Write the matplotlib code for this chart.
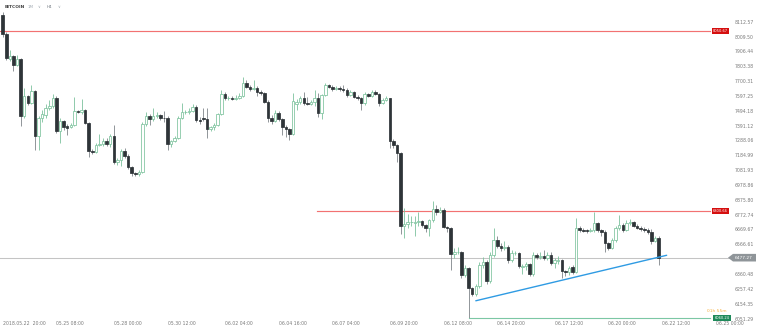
import matplotlib
matplotlib.use('Agg')
import matplotlib.pyplot as plt
import matplotlib.transforms as mtransforms
from matplotlib.patches import Polygon, Rectangle
import pandas as pd

# ---------------- data ----------------
start_time = '2018-05-22 20:00'
opens = [8165, 8030, 7855, 7878, 7816, 7857, 7461, 7600, 7552, 7635,
         7323, 7448, 7470, 7517, 7531, 7587, 7357, 7427, 7392, 7385,
         7399, 7496, 7489, 7503, 7413, 7218, 7211, 7260, 7267, 7288,
         7267, 7323, 7142, 7156, 7218, 7184, 7107, 7066, 7057, 7075,
         7404, 7464, 7441, 7464, 7468, 7450, 7446, 7265, 7288, 7306,
         7450, 7487, 7491, 7496, 7526, 7434, 7446, 7440, 7371, 7387,
         7399, 7475, 7612, 7584, 7590, 7583, 7589, 7602, 7689, 7665,
         7649, 7658, 7626, 7619, 7561, 7446, 7429, 7484, 7439, 7387,
         7369, 7337, 7545, 7561, 7584, 7550, 7548, 7558, 7584, 7480,
         7607, 7677, 7665, 7647, 7654, 7649, 7645, 7607, 7630, 7596,
         7584, 7550, 7614, 7600, 7630, 7614, 7550, 7573, 7584, 7290,
         7260, 7204, 6699, 6711, 6723, 6718, 6725, 6729, 6704, 6681,
         6739, 6815, 6797, 6808, 6692, 6685, 6501, 6515, 6519, 6357,
         6408, 6269, 6223, 6283, 6426, 6449, 6315, 6496, 6600, 6560,
         6542, 6553, 6461, 6508, 6510, 6412, 6422, 6430, 6364, 6496,
         6480, 6492, 6477, 6496, 6440, 6455, 6463, 6385, 6376, 6412,
         6380, 6681, 6670, 6670, 6663, 6670, 6716, 6670, 6658, 6577,
         6547, 6600, 6681, 6704, 6670, 6716, 6727, 6700, 6686, 6677,
         6670, 6658, 6593, 6616]
highs = [8184, 8045, 7920, 7885, 7885, 7864, 7656, 7607, 7677, 7642,
         7461, 7503, 7545, 7573, 7614, 7600, 7448, 7434, 7406, 7413,
         7594, 7503, 7580, 7510, 7420, 7232, 7274, 7337, 7309, 7309,
         7337, 7399, 7170, 7232, 7239, 7198, 7114, 7073, 7086, 7420,
         7489, 7475, 7517, 7489, 7475, 7496, 7461, 7295, 7323, 7461,
         7552, 7503, 7517, 7545, 7538, 7455, 7517, 7517, 7392, 7413,
         7482, 7642, 7626, 7600, 7600, 7607, 7621, 7735, 7712, 7677,
         7712, 7670, 7642, 7628, 7573, 7468, 7503, 7496, 7448, 7399,
         7378, 7623, 7580, 7600, 7628, 7594, 7573, 7642, 7621, 7614,
         7693, 7684, 7677, 7670, 7670, 7677, 7656, 7642, 7635, 7607,
         7594, 7628, 7621, 7642, 7642, 7621, 7587, 7600, 7590, 7302,
         7267, 7211, 6822, 6781, 6767, 6767, 6797, 6739, 6711, 6746,
         6871, 6843, 6829, 6822, 6697, 6690, 6545, 6551, 6524, 6426,
         6412, 6274, 6294, 6447, 6484, 6461, 6517, 6681, 6628, 6579,
         6593, 6565, 6531, 6524, 6517, 6433, 6447, 6440, 6517, 6510,
         6517, 6531, 6517, 6517, 6475, 6489, 6468, 6392, 6419, 6426,
         6751, 6697, 6683, 6677, 6683, 6797, 6725, 6677, 6670, 6586,
         6614, 6697, 6774, 6718, 6739, 6746, 6732, 6711, 6697, 6690,
         6683, 6677, 6628, 6628]
lows = [8010, 7851, 7844, 7774, 7809, 7392, 7448, 7538, 7545, 7225,
        7225, 7420, 7448, 7503, 7517, 7343, 7274, 7364, 7330, 7378,
        7392, 7482, 7475, 7406, 7177, 7198, 7204, 7253, 7253, 7253,
        7246, 7128, 7121, 7114, 7170, 7093, 7045, 7045, 7045, 7066,
        7392, 7399, 7427, 7448, 7434, 7420, 7225, 7246, 7281, 7302,
        7441, 7475, 7475, 7489, 7420, 7406, 7427, 7309, 7357, 7364,
        7392, 7468, 7573, 7573, 7573, 7573, 7580, 7594, 7656, 7635,
        7642, 7600, 7607, 7552, 7420, 7406, 7420, 7427, 7330, 7316,
        7295, 7330, 7503, 7545, 7538, 7538, 7538, 7531, 7455, 7441,
        7600, 7656, 7635, 7642, 7635, 7628, 7594, 7600, 7587, 7573,
        7503, 7538, 7594, 7594, 7607, 7531, 7545, 7566, 7239, 7239,
        7144, 6642, 6614, 6683, 6697, 6628, 6697, 6690, 6656, 6628,
        6725, 6774, 6788, 6683, 6656, 6392, 6475, 6503, 6336, 6343,
        6060.24, 6211, 6211, 6267, 6406, 6294, 6301, 6482, 6545, 6524,
        6531, 6440, 6447, 6496, 6406, 6364, 6392, 6350, 6350, 6468,
        6468, 6461, 6461, 6426, 6406, 6433, 6334, 6350, 6357, 6364,
        6371, 6656, 6656, 6649, 6656, 6656, 6656, 6628, 6519, 6531,
        6538, 6586, 6670, 6656, 6663, 6704, 6690, 6677, 6663, 6656,
        6642, 6572, 6586, 6426]
closes = [8030, 7864, 7878, 7816, 7857, 7461, 7600, 7552, 7635, 7323,
          7448, 7475, 7517, 7531, 7587, 7357, 7427, 7385, 7378, 7399,
          7496, 7489, 7503, 7413, 7218, 7211, 7260, 7267, 7288, 7267,
          7323, 7142, 7156, 7218, 7184, 7107, 7066, 7057, 7075, 7404,
          7464, 7441, 7464, 7468, 7450, 7446, 7265, 7288, 7306, 7450,
          7487, 7491, 7496, 7526, 7434, 7430, 7440, 7371, 7387, 7399,
          7475, 7612, 7584, 7590, 7583, 7589, 7602, 7689, 7665, 7649,
          7658, 7626, 7619, 7561, 7446, 7429, 7484, 7439, 7387, 7369,
          7337, 7568, 7561, 7584, 7550, 7548, 7558, 7584, 7480, 7607,
          7677, 7665, 7647, 7654, 7649, 7645, 7607, 7630, 7596, 7584,
          7550, 7614, 7600, 7630, 7614, 7550, 7573, 7584, 7290, 7260,
          7204, 6699, 6711, 6723, 6725, 6727, 6729, 6704, 6681, 6739,
          6815, 6797, 6808, 6692, 6685, 6501, 6515, 6519, 6357, 6408,
          6269, 6223, 6283, 6426, 6449, 6315, 6496, 6600, 6560, 6542,
          6553, 6461, 6508, 6510, 6419, 6422, 6430, 6364, 6496, 6480,
          6492, 6477, 6496, 6440, 6461, 6463, 6385, 6376, 6404, 6380,
          6681, 6670, 6666, 6663, 6670, 6716, 6670, 6658, 6577, 6547,
          6600, 6681, 6704, 6670, 6716, 6727, 6700, 6686, 6677, 6670,
          6658, 6593, 6616, 6477.27]

xtick_times = ['2018-05-22 20:00', '2018-05-25 08:00', '2018-05-28 00:00',
               '2018-05-30 12:00', '2018-06-02 04:00', '2018-06-04 16:00',
               '2018-06-07 04:00', '2018-06-09 20:00', '2018-06-12 08:00',
               '2018-06-14 20:00', '2018-06-17 12:00', '2018-06-20 00:00',
               '2018-06-22 12:00', '2018-06-25 00:00']
ytick_values = [8112.57, 8009.50, 7906.44, 7803.38, 7700.31, 7597.25, 7494.18,
                7391.12, 7288.06, 7184.99, 7081.93, 6978.86, 6875.80, 6772.74,
                6669.67, 6566.61, 6360.48, 6257.42, 6154.35, 6051.29]

resistance_top = 8050.67
resistance_mid = 6800.66
resistance_mid_start = '2018-06-06 11:00'
current_price = 6477.27
low_price = 6060.24
low_start = '2018-06-13 12:00'
trend_times = ['2018-06-13 20:00', '2018-06-22 17:00']
trend_prices = [6178, 6494]
timer_text = '01h 55m'

# ---------------- helpers ----------------
t0 = pd.Timestamp(start_time)


def tindex(t):
    return (pd.Timestamp(t) - t0) / pd.Timedelta(hours=4)


W, H = 760, 331
fig = plt.figure(figsize=(W / 100, H / 100), dpi=100)
fig.patch.set_facecolor('white')
ax = fig.add_axes([0, 13 / H, 731 / W, 318 / H])
ax.set_facecolor('white')
ax.set_xlim(-0.75, 203.2)
ax.set_ylim(6058.3, 8267.4)
for s in ax.spines.values():
    s.set_visible(False)
ax.set_xticks([])
ax.set_yticks([])

GREEN = '#7cc29d'
DARK = '#2e3438'
DARKWICK = '#7f8589'
bw = 0.7

for i, (o, h, l, c) in enumerate(zip(opens, highs, lows, closes)):
    up = c >= o
    lo_b, hi_b = min(o, c), max(o, c)
    ax.vlines(i, min(l, lo_b), max(h, hi_b), color=GREEN if up else DARKWICK,
              lw=0.6, zorder=3)
    hgt = max(hi_b - lo_b, 4)
    if up:
        rect = Rectangle((i - bw / 2, lo_b), bw, hgt, facecolor='white',
                         edgecolor=GREEN, lw=0.55, zorder=4)
    else:
        rect = Rectangle((i - bw / 2, lo_b), bw, hgt, facecolor=DARK,
                         edgecolor=DARK, lw=0.55, zorder=4)
    ax.add_patch(rect)

# horizontal levels
end_idx = 197.4
RED_LINE = '#f27272'
ax.plot([-0.75, end_idx], [resistance_top] * 2, color=RED_LINE, lw=0.85,
        zorder=2, snap=True)
ax.plot([tindex(resistance_mid_start), end_idx], [resistance_mid] * 2,
        color=RED_LINE, lw=0.85, zorder=2, snap=True)
ax.plot([-0.75, 203.2], [current_price] * 2, color='#c4c4c4', lw=0.75, zorder=2)
ax.plot([tindex(low_start), end_idx], [low_price] * 2, color='#7cc7a4', lw=0.8,
        zorder=2, clip_on=False)

# trend line
ax.plot([tindex(t) for t in trend_times], trend_prices, color='#2f9be3', lw=1.0,
        zorder=5, solid_capstyle='round')

# ---------------- labels ----------------
tr_fy = mtransforms.blended_transform_factory(fig.transFigure, ax.transData)
tr_xf = mtransforms.blended_transform_factory(ax.transData, fig.transFigure)
FS = 3.3
for v in ytick_values:
    fig.text(735 / W, v, f'{v:.2f}', transform=tr_fy, ha='left', va='center',
             fontsize=FS, color='#7a7a7a')

for k, t in enumerate(xtick_times):
    ts = pd.Timestamp(t)
    lab = ts.strftime('%Y.%m.%d  %H:%M') if k == 0 else ts.strftime('%m.%d %H:%M')
    fig.text(tindex(t), 1 - 323.5 / H, lab, transform=tr_xf, ha='left',
             va='center', fontsize=FS, color='#7a7a7a')

ppx = (8267.4 - 6058.3) / 318.0  # price per pixel


def tag(price, color, text, x0=712, x1=729):
    hh = 3.0 * ppx
    poly = Polygon([(x0 / W, price - hh), (x1 / W, price - hh),
                    (x1 / W, price + hh), (x0 / W, price + hh)],
                   closed=True, transform=tr_fy, facecolor=color,
                   edgecolor='none', zorder=10)
    fig.add_artist(poly)
    fig.text((x0 + x1) / 2 / W, price, text, transform=tr_fy, ha='center',
             va='center', fontsize=2.6, color='white', zorder=11)


# orange countdown behind the green tag
fig.text(717 / W, low_price + 6.5 * ppx, timer_text, transform=tr_fy, ha='center',
         va='center', fontsize=3.2, color='#f5b041', zorder=9)
tag(resistance_top, '#d50f0f', f'{resistance_top:.2f}')
tag(resistance_mid, '#d50f0f', f'{resistance_mid:.2f}')
tag(low_price, '#1f8a5b', f'{low_price:.2f}', x0=713, x1=731)

# current price tag (pointed)
hh = 3.8 * ppx
cp = Polygon([(728 / W, current_price), (733 / W, current_price + hh),
              (756 / W, current_price + hh), (756 / W, current_price - hh),
              (733 / W, current_price - hh)], closed=True, transform=tr_fy,
             facecolor='#8f9599', edgecolor='none', zorder=10)
fig.add_artist(cp)
fig.text(744 / W, current_price, f'{current_price:.2f}', transform=tr_fy,
         ha='center', va='center', fontsize=3.2, color='white', zorder=11)

# header
fig.text(5 / W, 1 - 7 / H, 'BITCOIN', ha='left', va='center', fontsize=3.2,
         fontweight='bold', color='#444444')
fig.text(28 / W, 1 - 7 / H, '1M', ha='left', va='center', fontsize=3.0,
         color='#a0a8b0')
fig.text(37 / W, 1 - 7 / H, '\u2228', ha='left', va='center', fontsize=2.8,
         color='#a0a8b0')
fig.text(47 / W, 1 - 7 / H, 'H4', ha='left', va='center', fontsize=3.0,
         color='#707880')
fig.text(58 / W, 1 - 7 / H, '\u2228', ha='left', va='center', fontsize=2.8,
         color='#a0a8b0')

fig.savefig('out.png', dpi=100, facecolor='white')
